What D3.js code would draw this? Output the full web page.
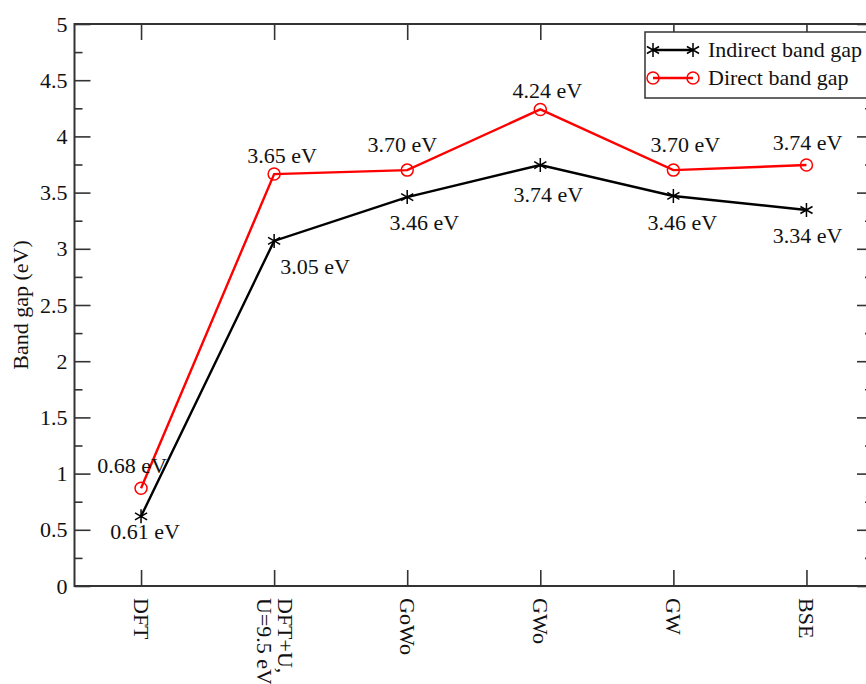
<!DOCTYPE html>
<html>
<head>
<meta charset="utf-8">
<script src="https://cdn.jsdelivr.net/npm/d3@7"></script>
<style>
  body { margin: 0; background: #fff; }
  svg { display: block; font-family: "Liberation Serif", "DejaVu Serif", serif; }
</style>
</head>
<body>
<svg id="chart" width="866" height="684"></svg>
<script>
// chart data
var methods = ["DFT", "DFT+U,\nU=9.5 eV", "GoWo", "GWo", "GW", "BSE"];
var indirectGap = [0.62, 3.07, 3.46, 3.745, 3.47, 3.345];
var directGap = [0.87, 3.665, 3.70, 4.24, 3.70, 3.745];
var indirectLabels = ["0.61 eV", "3.05 eV", "3.46 eV", "3.74 eV", "3.46 eV", "3.34 eV"];
var directLabels = ["0.68 eV", "3.65 eV", "3.70 eV", "4.24 eV", "3.70 eV", "3.74 eV"];
var yMajorTicks = [0, 0.5, 1, 1.5, 2, 2.5, 3, 3.5, 4, 4.5, 5];
var yMinorTicks = [0.25, 0.75, 1.25, 1.75, 2.25, 2.75, 3.25, 3.75, 4.25, 4.75];
var seriesNames = ["Indirect band gap", "Direct band gap"];

// label placement (pixel offsets from each point)
var indirectOffsets = [[4, 23], [41, 33], [17, 33], [8, 37], [9, 34], [1, 33]];
var directOffsets = [[-9, -15], [8, -11], [-5, -18], [7, -11], [12, -18], [1, -15]];

var plotLeft = 74.5, plotRight = 873, plotTop = 24, plotBottom = 586;
var fontSize = 22;
var svg = d3.select("#chart");

var x = d3.scalePoint().domain(methods).range([plotLeft, plotRight]).padding(0.5);
var y = d3.scaleLinear().domain([0, 5]).range([plotBottom, plotTop]);

var axisColor = "#333";

function styleTicks(g) {
    g.select(".domain").remove();
    g.selectAll("line").attr("stroke", axisColor).attr("stroke-width", 1.6);
}

// left axis
svg.append("g")
    .attr("transform", "translate(" + plotLeft + ",0)")
    .call(d3.axisLeft(y).tickValues(yMajorTicks).tickSizeInner(-16).tickSizeOuter(0).tickPadding(7)
        .tickFormat(function(d) { return d3.format("")(d); }))
    .call(styleTicks)
    .call(function(g) {
        g.selectAll("text").attr("font-size", fontSize).attr("font-family", "Liberation Serif").attr("fill", "#111");
    });
svg.append("g")
    .attr("transform", "translate(" + plotLeft + ",0)")
    .call(d3.axisLeft(y).tickValues(yMinorTicks).tickSize(-8).tickFormat(""))
    .call(styleTicks);

// right axis
svg.append("g")
    .attr("transform", "translate(" + plotRight + ",0)")
    .call(d3.axisRight(y).tickValues(yMajorTicks).tickSize(-16).tickFormat(""))
    .call(styleTicks);
svg.append("g")
    .attr("transform", "translate(" + plotRight + ",0)")
    .call(d3.axisRight(y).tickValues(yMinorTicks).tickSize(-8).tickFormat(""))
    .call(styleTicks);

// bottom axis
var xAxisG = svg.append("g")
    .attr("transform", "translate(0," + plotBottom + ")")
    .call(d3.axisBottom(x).tickSize(-16).tickFormat(""))
    .call(styleTicks);
xAxisG.selectAll(".tick").each(function(d) {
    var lines = d.split("\n");
    var t = d3.select(this).append("text")
        .attr("transform", "translate(0,12) rotate(90)")
        .attr("text-anchor", "start")
        .attr("font-size", fontSize)
        .attr("font-family", "Liberation Serif")
        .attr("fill", "#111");
    lines.forEach(function(line, i) {
        t.append("tspan")
            .attr("x", 0)
            .attr("y", (i - (lines.length - 1) / 2) * 21 + 7.5)
            .text(line);
    });
});

// top axis
svg.append("g")
    .attr("transform", "translate(0," + plotTop + ")")
    .call(d3.axisTop(x).tickSize(-16).tickFormat(""))
    .call(styleTicks);

// frame
svg.append("rect")
    .attr("x", plotLeft).attr("y", plotTop)
    .attr("width", plotRight - plotLeft).attr("height", plotBottom - plotTop)
    .attr("fill", "none").attr("stroke", axisColor).attr("stroke-width", 2);

// y label
svg.append("text")
    .attr("transform", "translate(28," + ((plotTop + plotBottom) / 2) + ") rotate(-90)")
    .attr("text-anchor", "middle")
    .attr("font-size", fontSize)
    .attr("fill", "#111")
    .text("Band gap (eV)");

var line = d3.line()
    .x(function(d, i) { return x(methods[i]); })
    .y(function(d) { return y(d); });

function starPath(r) {
    var p = "";
    [90, 30, -30].forEach(function(a) {
        var rad = a * Math.PI / 180;
        var dx = r * Math.cos(rad), dy = r * Math.sin(rad);
        p += "M" + (-dx) + "," + (-dy) + "L" + dx + "," + dy;
    });
    return p;
}

function drawStar(g, cx, cy) {
    g.append("path")
        .attr("d", starPath(7))
        .attr("transform", "translate(" + cx + "," + cy + ")")
        .attr("stroke", "#000").attr("stroke-width", 1.5).attr("fill", "none");
}
function drawCircle(g, cx, cy) {
    g.append("circle")
        .attr("cx", cx).attr("cy", cy).attr("r", 6)
        .attr("stroke", "#ff0000").attr("stroke-width", 1.5).attr("fill", "none");
}

// indirect series
svg.append("path")
    .datum(indirectGap)
    .attr("d", line)
    .attr("fill", "none").attr("stroke", "#000").attr("stroke-width", 2.4);
var indG = svg.append("g");
indirectGap.forEach(function(v, i) { drawStar(indG, x(methods[i]), y(v)); });

// direct series
svg.append("path")
    .datum(directGap)
    .attr("d", line)
    .attr("fill", "none").attr("stroke", "#ff0000").attr("stroke-width", 2.4);
var dirG = svg.append("g");
directGap.forEach(function(v, i) { drawCircle(dirG, x(methods[i]), y(v)); });

// value labels
svg.selectAll(".ind-label")
    .data(indirectGap)
    .enter().append("text")
    .attr("class", "ind-label")
    .attr("x", function(d, i) { return x(methods[i]) + indirectOffsets[i][0]; })
    .attr("y", function(d, i) { return y(d) + indirectOffsets[i][1]; })
    .attr("text-anchor", "middle")
    .attr("font-size", fontSize)
    .attr("fill", "#111")
    .text(function(d, i) { return indirectLabels[i]; });

svg.selectAll(".dir-label")
    .data(directGap)
    .enter().append("text")
    .attr("class", "dir-label")
    .attr("x", function(d, i) { return x(methods[i]) + directOffsets[i][0]; })
    .attr("y", function(d, i) { return y(d) + directOffsets[i][1]; })
    .attr("text-anchor", "middle")
    .attr("font-size", fontSize)
    .attr("fill", "#111")
    .text(function(d, i) { return directLabels[i]; });

// legend
var legend = svg.append("g").attr("transform", "translate(645,32)");
legend.append("rect")
    .attr("width", 240).attr("height", 66)
    .attr("fill", "#fff").attr("stroke", axisColor).attr("stroke-width", 1.5);
seriesNames.forEach(function(name, i) {
    var ly = 18 + i * 28;
    var color = i === 0 ? "#000" : "#ff0000";
    legend.append("line")
        .attr("x1", 8).attr("x2", 48).attr("y1", ly).attr("y2", ly)
        .attr("stroke", color).attr("stroke-width", 2.4);
    if (i === 0) { drawStar(legend, 8, ly); drawStar(legend, 48, ly); }
    else { drawCircle(legend, 8, ly); drawCircle(legend, 48, ly); }
    legend.append("text")
        .attr("x", 63).attr("y", ly + 7)
        .attr("font-size", fontSize)
        .attr("fill", "#111")
        .text(name);
});
</script>
</body>
</html>
